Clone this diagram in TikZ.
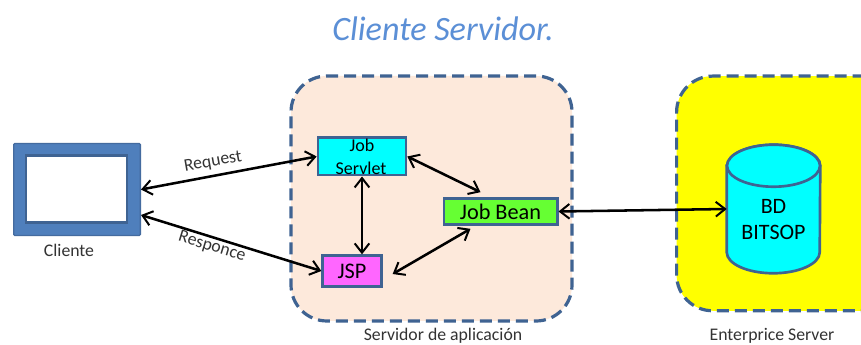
\documentclass[tikz,border=0pt]{standalone}
\usepackage{fontspec}
\setmainfont{Carlito}
\usetikzlibrary{arrows.meta,calc}
\definecolor{edgeblue}{HTML}{3F6392}
\definecolor{monblue}{HTML}{4F7FBC}
\definecolor{titleblue}{HTML}{5B8FD6}
\definecolor{peach}{HTML}{FDE9DB}
\definecolor{txtgray}{HTML}{333333}
\definecolor{rcyan}{HTML}{00FFFF}
\definecolor{ryellow}{HTML}{FFFF00}
\definecolor{rgreen}{HTML}{66FF33}
\definecolor{rmagenta}{HTML}{FF66FF}
\tikzset{
  zone/.style={draw=edgeblue,line width=2.4pt,dash pattern=on 9pt off 4.5pt,rounded corners=27pt,inner sep=0pt},
  comp/.style={draw=edgeblue,line width=2pt,inner sep=0pt,text=black,font=\fontsize{16.7}{20}\selectfont},
  link/.style={black,line width=1.9pt,{Straight Barb[length=7pt,width=11pt,line width=1.5pt]}-{Straight Barb[length=7pt,width=11pt,line width=1.5pt]}},
  cap text/.style={text=txtgray,font=\fontsize{13.3}{16}\selectfont,inner sep=0pt},
  db line/.style={draw=edgeblue,line width=2pt,fill=rcyan},
}
\begin{document}
\begin{tikzpicture}[x=0.75pt,y=-0.75pt]
\useasboundingbox (0,0) rectangle (861,345);
\clip (0,0) rectangle (861,345);
\fill[white] (0,0) rectangle (861,345);
\node[inner sep=0pt,text=titleblue,font=\fontsize{25.6}{30}\selectfont\itshape] (title) at (443,29) {Cliente Servidor.};
% zones
\node[zone,fill=peach,minimum width=210.75pt,minimum height=183.75pt] (appzone) at (431.5,198.5) {};
\node[zone,fill=ryellow,minimum width=195pt,minimum height=176pt,anchor=north west] (entzone) at (675,74.5) {};
% client monitor
\node[draw=edgeblue!70!monblue,fill=monblue,line width=1pt,minimum width=95pt,minimum height=69pt,inner sep=0pt,rounded corners=0.8pt] (monitor) at (77,189.5) {};
\node[draw=edgeblue,fill=white,line width=1.9pt,minimum width=76pt,minimum height=50pt,inner sep=0pt] (screen) at (76.5,189) {};
% components
\node[comp,fill=rcyan,minimum width=66pt,minimum height=28pt] (servlet) at (362,156.5) {};
\node[inner sep=0pt,font=\fontsize{13.5}{17}\selectfont] (servletA) at (362,145) {Job};
\node[inner sep=0pt,font=\fontsize{13.5}{17}\selectfont] (servletB) at (361,168) {Servlet};
\node[comp,fill=rmagenta,minimum width=44pt,minimum height=23pt] (jsp) at (352,271) {JSP};
\node[comp,fill=rgreen,minimum width=85pt,minimum height=19.5pt] (bean) at (500.5,211.5) {Job Bean};
% database: body, then top ellipse, on an anchor node
\node[inner sep=0pt,minimum width=69.75pt,minimum height=96pt] (db) at (773.5,209) {};
\path[db line] ($(db.north west)+(0,21)$) -- ($(db.south west)+(0,-21)$)
  arc[start angle=180,end angle=360,x radius=34.875pt,y radius=15.75pt]
  -- ($(db.north east)+(0,21)$)
  arc[start angle=0,end angle=180,x radius=34.875pt,y radius=15.75pt] -- cycle;
\path[db line] ($(db.north)+(0,21)$) ellipse[x radius=34.875pt,y radius=15.75pt];
\node[inner sep=0pt,text=black,align=center,font=\fontsize{16.5}{19.5}\selectfont] (dbtext) at (773.5,220) {BD\\BITSOP};
% connectors
\draw[link] (monitor.east) -- (servlet.west);
\draw[link] ($(monitor.east)+(0,25.5)$) -- (jsp.west);
\draw[link] (servlet.east) -- ($(bean.north)+(-20,-5)$);
\draw[link] (servlet.south) -- ($(jsp.north)+(10,0)$);
\draw[link] ($(bean.south)+(-30,3)$) -- ($(jsp.east)+(10,3)$);
\draw[link] (bean.east) -- (db.west);
% captions
\node[cap text,rotate=10] (req) at (213,162) {Request};
\node[cap text,rotate=-17] (resp) at (212,247) {Responce};
\node[cap text] (cli) at (69,250) {Cliente};
\node[cap text] (app) at (443,336) {Servidor de aplicación};
\node[cap text] (ent) at (772,336) {Enterprice Server};
\end{tikzpicture}
\end{document}
